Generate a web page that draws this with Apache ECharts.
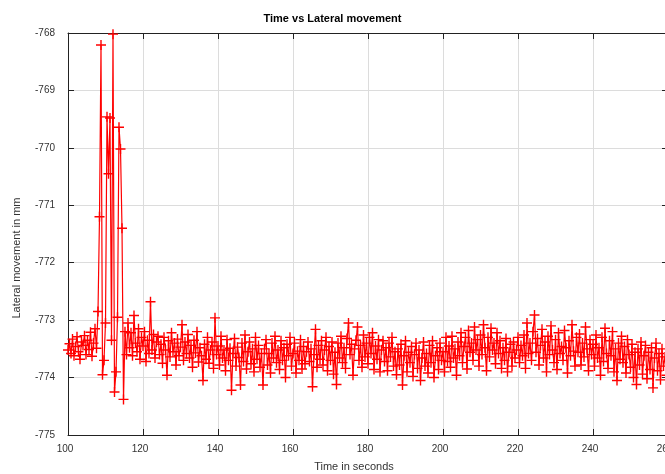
<!DOCTYPE html>
<html>
<head>
<meta charset="utf-8">
<script src="https://cdn.jsdelivr.net/npm/echarts@6/dist/echarts.min.js"></script>
<style>
  html, body { margin: 0; padding: 0; background: #fff; }
  #chart { width: 665px; height: 474px; }
</style>
</head>
<body>
<div id="chart"></div>
<script>
// sampling of the recording: one reading every 0.4 s from t = 100 s
const startTime = 100;
const timeStep = 0.4;

const xTicks = [100, 120, 140, 160, 180, 200, 220, 240, 260];
const yTicks = [-775, -774, -773, -772, -771, -770, -769, -768];

// lateral movement (mm)
const lateral = [
  -773.52, -773.41, -773.58, -773.33, -773.62, -773.46, -773.29, -773.55, -773.68, -773.38,
  -773.44, -773.27, -773.60, -773.35, -773.51, -773.21, -773.63, -773.40, -773.15, -773.49,
  -772.85, -771.20, -768.21, -773.95, -773.70, -773.05, -769.46, -770.45, -769.48, -773.35,
  -768.02, -774.25, -773.90, -772.95, -769.64, -770.02, -771.40, -774.38, -773.20, -773.60,
  -773.05, -773.48, -773.22, -773.62, -772.92, -773.40, -773.55, -773.15, -773.68, -773.30,
  -773.45, -773.20, -773.72, -773.35, -773.58, -772.68, -773.52, -773.25, -773.66, -773.38,
  -773.28, -773.60, -773.42, -773.75, -773.30, -773.52, -773.96, -773.36, -773.64, -773.22,
  -773.55, -773.40, -773.78, -773.33, -773.62, -773.47, -773.08, -773.70, -773.38, -773.58,
  -773.25, -773.66, -773.44, -773.82, -773.35, -773.57, -773.20, -773.73, -773.48, -773.62,
  -774.05, -773.42, -773.68, -773.30, -773.75, -773.52, -773.38, -773.84, -772.96, -773.60,
  -773.45, -773.78, -773.28, -773.66, -773.52, -773.88, -773.34, -773.70, -773.49, -774.22,
  -773.58, -773.32, -773.80, -773.47, -773.65, -774.13, -773.40, -773.72, -773.26, -773.85,
  -773.55, -773.38, -773.76, -773.50, -773.90, -773.30, -773.68, -773.44, -773.82, -773.58,
  -774.13, -773.50, -773.34, -773.78, -773.58, -773.92, -773.40, -773.66, -773.28, -773.74,
  -773.52, -773.86, -773.36, -773.70, -773.48, -774.00, -773.42, -773.62, -773.30, -773.80,
  -773.58, -773.40, -773.92, -773.54, -773.70, -773.34, -773.85, -773.46, -773.76, -773.55,
  -773.38, -773.72, -773.50, -774.16, -773.60, -773.16, -773.82, -773.44, -773.68, -773.36,
  -773.78, -773.52, -773.30, -773.88, -773.46, -773.70, -773.38, -773.94, -773.56, -774.12,
  -773.40, -773.66, -773.28, -773.74, -773.48, -773.84, -773.32, -773.05, -773.60, -773.42,
  -773.96, -773.50, -773.35, -773.12, -773.70, -773.44, -773.82, -773.26, -773.64, -773.40,
  -773.76, -773.30, -773.58, -773.22, -773.86, -773.45, -773.68, -773.34, -773.90, -773.52,
  -773.36, -773.72, -773.48, -773.88, -773.40, -773.64, -773.30, -773.80, -773.55, -773.95,
  -773.50, -773.78, -773.42, -774.13, -773.62, -773.36, -773.90, -773.56, -773.74, -773.46,
  -773.98, -773.60, -773.40, -773.84, -773.52, -774.05, -773.66, -773.38, -773.80, -773.58,
  -773.92, -773.44, -773.74, -773.36, -774.00, -773.62, -773.48, -773.86, -773.40, -773.70,
  -773.55, -773.90, -773.30, -773.72, -773.45, -773.82, -773.28, -773.66, -773.50, -773.96,
  -773.38, -773.62, -773.22, -773.74, -773.46, -773.30, -773.85, -773.18, -773.56, -773.40,
  -773.70, -773.12, -773.52, -773.34, -773.80, -773.26, -773.60, -773.08, -773.48, -773.88,
  -773.30, -773.64, -773.14, -773.52, -773.40, -773.76, -773.22, -773.58, -773.36, -773.84,
  -773.48, -773.70, -773.32, -773.90, -773.56, -773.42, -773.80, -773.38, -773.66, -773.52,
  -773.30, -773.74, -773.44, -773.62, -773.26, -773.84, -773.05, -773.58, -773.40, -773.70,
  -773.20, -772.91, -773.56, -773.32, -773.78, -773.44, -773.16, -773.66, -773.38, -773.90,
  -773.28, -773.60, -773.10, -773.52, -773.74, -773.34, -773.86, -773.22, -773.58, -773.46,
  -773.70, -773.18, -773.48, -773.92, -773.36, -773.62, -773.08, -773.54, -773.80, -773.30,
  -773.56, -773.24, -773.78, -773.40, -773.64, -773.12, -773.50, -773.88, -773.34, -773.60,
  -773.42, -773.80, -773.26, -773.66, -773.48, -773.96, -773.30, -773.72, -773.14, -773.58,
  -773.84, -773.36, -773.62, -773.20, -773.90, -773.50, -774.05, -773.40, -773.68, -773.28,
  -773.74, -773.46, -773.92, -773.34, -773.60, -773.82, -773.42, -774.00, -773.56, -774.12,
  -773.50, -773.78, -773.38, -773.94, -773.62, -773.44, -774.02, -773.56, -773.86, -773.48,
  -774.18, -773.66, -773.40, -773.88, -773.58, -774.04, -773.50, -773.80, -773.64, -773.96
];

const points = lateral.map((v, i) => [+(startTime + i * timeStep).toFixed(1), v]);

const font = 'Liberation Sans, Arial, sans-serif';
const axisColor = '#222';
const gridColor = '#dcdcdc';

let myChart = echarts.init(document.getElementById('chart'));

const tickCommon = {
  axisLine: { show: true, lineStyle: { color: axisColor, width: 1 } },
  axisTick: { show: true, inside: true, length: 6, lineStyle: { color: axisColor } },
};

let option = {
  backgroundColor: '#fff',
  animation: false,
  title: {
    text: 'Time vs Lateral movement',
    left: 'center',
    top: 8,
    textStyle: { fontFamily: font, fontSize: 11, fontWeight: 'bold', color: '#000' },
  },
  // plot runs past the right edge of the picture, like the cropped original
  grid: { left: 68, right: -3, top: 33, bottom: 39, containLabel: false, outerBoundsMode: 'none' },
  xAxis: [
    {
      type: 'value',
      min: xTicks[0],
      max: xTicks[xTicks.length - 1],
      interval: 20,
      name: 'Time in seconds',
      nameLocation: 'middle',
      nameGap: 26,
      nameTextStyle: { fontFamily: font, fontSize: 11, color: '#333', padding: [0, 28, 0, 0] },
      ...tickCommon,
      axisLabel: { fontFamily: font, fontSize: 10, color: '#333', margin: 9, padding: [0, 6, 0, 0] },
      splitLine: { show: true, lineStyle: { color: gridColor, width: 1 } },
    },
    {
      type: 'value',
      position: 'top',
      min: xTicks[0],
      max: xTicks[xTicks.length - 1],
      interval: 20,
      ...tickCommon,
      axisLabel: { show: false },
      splitLine: { show: false },
    },
  ],
  yAxis: [
    {
      type: 'value',
      min: yTicks[0],
      max: yTicks[yTicks.length - 1],
      interval: 1,
      name: 'Lateral movement in mm',
      nameLocation: 'middle',
      nameGap: 46,
      nameTextStyle: { fontFamily: font, fontSize: 11, color: '#333', padding: [0, 48, 0, 0] },
      ...tickCommon,
      axisLabel: { fontFamily: font, fontSize: 10, color: '#333', margin: 13 },
      splitLine: { show: true, lineStyle: { color: gridColor, width: 1 } },
    },
    {
      type: 'value',
      position: 'right',
      min: yTicks[0],
      max: yTicks[yTicks.length - 1],
      interval: 1,
      ...tickCommon,
      axisLabel: { show: false },
      splitLine: { show: false },
    },
  ],
  series: [
    {
      type: 'line',
      data: points,
      xAxisIndex: 0,
      yAxisIndex: 0,
      symbol: 'path://M0,5L10,5M5,0L5,10',
      symbolSize: 10,
      showSymbol: true,
      showAllSymbol: true,
      lineStyle: { color: '#ff0000', width: 1.2 },
      itemStyle: { color: 'none', borderColor: '#ff0000', borderWidth: 1.4 },
      emphasis: { disabled: true },
    },
  ],
};

myChart.setOption(option);
window.addEventListener('resize', () => {
  myChart.resize();
});
</script>
</body>
</html>
